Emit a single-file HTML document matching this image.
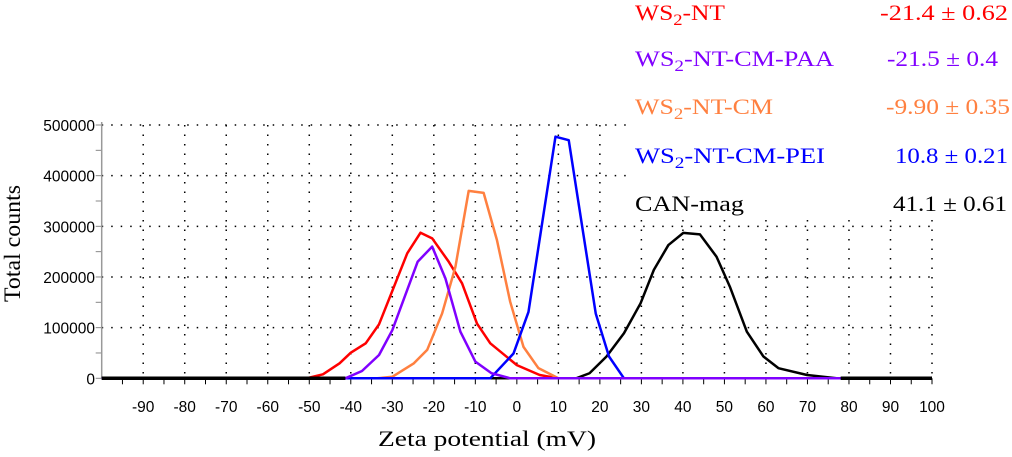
<!DOCTYPE html>
<html><head><meta charset="utf-8"><style>
body{margin:0;background:#fff;width:1012px;height:457px;overflow:hidden}
svg{display:block}
.t{font-family:"Liberation Serif",serif}
.a{font-family:"Liberation Sans",sans-serif;font-size:15.5px}
</style></head><body>
<svg id="chart" width="1012" height="457" xmlns="http://www.w3.org/2000/svg">
<g id="grid"></g>
<g id="axes"></g>
<g id="series"></g>
<rect x="626" y="0" width="386" height="218" fill="#fff"/>
<g class="t" font-size="22">
 <text x="635" y="20" fill="#ff0000" textLength="90" lengthAdjust="spacingAndGlyphs">WS<tspan font-size="16" dy="5">2</tspan><tspan dy="-5">-NT</tspan></text>
 <text x="880" y="20" fill="#ff0000" textLength="128" lengthAdjust="spacingAndGlyphs">-21.4 ± 0.62</text>
 <text x="635" y="66" fill="#8000ff" textLength="199" lengthAdjust="spacingAndGlyphs">WS<tspan font-size="16" dy="5">2</tspan><tspan dy="-5">-NT-CM-PAA</tspan></text>
 <text x="887" y="66" fill="#8000ff" textLength="111" lengthAdjust="spacingAndGlyphs">-21.5 ± 0.4</text>
 <text x="635" y="114" fill="#ff8040" textLength="138" lengthAdjust="spacingAndGlyphs">WS<tspan font-size="16" dy="5">2</tspan><tspan dy="-5">-NT-CM</tspan></text>
 <text x="886" y="114" fill="#ff8040" textLength="124" lengthAdjust="spacingAndGlyphs">-9.90 ± 0.35</text>
 <text x="635" y="163" fill="#0000ff" textLength="190" lengthAdjust="spacingAndGlyphs">WS<tspan font-size="16" dy="5">2</tspan><tspan dy="-5">-NT-CM-PEI</tspan></text>
 <text x="895" y="163" fill="#0000ff" textLength="113" lengthAdjust="spacingAndGlyphs">10.8 ± 0.21</text>
 <text x="635" y="211" fill="#000" textLength="109" lengthAdjust="spacingAndGlyphs">CAN-mag</text>
 <text x="893" y="211" fill="#000" textLength="114" lengthAdjust="spacingAndGlyphs">41.1 ± 0.61</text>
</g>
<text class="t" font-size="22" x="378" y="446" textLength="218" lengthAdjust="spacingAndGlyphs">Zeta potential (mV)</text>
<text class="t" font-size="23" transform="translate(20,302) rotate(-90)" textLength="117" lengthAdjust="spacingAndGlyphs">Total counts</text>
</svg>
<script>
const xTicks=[-90,-80,-70,-60,-50,-40,-30,-20,-10,0,10,20,30,40,50,60,70,80,90,100];
const yTicks=[0,100000,200000,300000,400000,500000];
const redX=[-100,-50.7,-46.7,-42.7,-40,-36.4,-33.2,-26.4,-23.2,-20.4,-16.4,-13.2,-9.6,-6.4,0,5.5,10,100];
const redY=[0,0,7900,29600,50500,69000,106500,246700,287400,276300,230000,187500,108000,69000,26000,6500,0,0];
const orangeX=[-100,-33.6,-30,-24.8,-21.6,-18,-14.8,-11.6,-8,-4.8,-1.6,1.6,5.2,10,100];
const orangeY=[0,0,3000,29600,56000,128000,220000,370000,366000,273000,151000,62000,20000,0,0];
const blueX=[-100,-6.4,-0.8,2.8,9.3,12.5,19,22.2,25.8,100];
const blueY=[0,0,49000,131000,477000,470000,128000,43000,0,0];
const blackX=[-100,14.3,17.5,21.6,25.8,29.8,33,36.5,40.1,44.1,48.1,51.3,55.4,59.4,63,69.9,77,100];
const blackY=[0,0,10000,43000,89000,148000,214000,263000,287000,284000,240000,181000,92000,43000,20000,6500,0,0];
const purpleX=[-41.3,-37.3,-33.2,-30,-23.9,-20.4,-17.2,-13.6,-10,-6.1,-1.6,78];
const purpleY=[0,14400,46000,95000,230000,260000,197000,92000,33000,10000,0,0];
const NS='http://www.w3.org/2000/svg';
const X0=101.7,X1=932,Y0=378.3,Y1=125;
function sx(v){return X0+(v+100)/200*(X1-X0);}
function sy(v){return Y0-v/500000*(Y0-Y1);}
function mk(tag,attrs,parent){const e=document.createElementNS(NS,tag);for(const k in attrs)e.setAttribute(k,attrs[k]);parent.appendChild(e);return e;}
const grid=document.getElementById('grid'),axes=document.getElementById('axes'),ser=document.getElementById('series');
xTicks.forEach(v=>{
 const l=mk('line',{x1:sx(v),x2:sx(v),y1:Y1,y2:Y0,stroke:'#000','stroke-width':1.5,'stroke-dasharray':'1.5 8'},grid);
 
 
 const t=mk('text',{x:sx(v),y:412,'text-anchor':'middle',class:'a'},axes);t.textContent=v;
 
 
});
for(let v=-95;v<=100;v+=5){const tk=mk('line',{x1:sx(v),x2:sx(v),y1:Y0,y2:Y0+6,stroke:'#000','stroke-width':1},axes);
 
 }
yTicks.forEach(v=>{
 if(v>0){const l=mk('line',{x1:X0,x2:X1,y1:sy(v),y2:sy(v),stroke:'#000','stroke-width':1.5,'stroke-dasharray':'1.5 8'},grid);
 
 }
 const t=mk('text',{x:95,y:sy(v)+6,'text-anchor':'end',class:'a'},axes);t.textContent=v;
 
 
});
for(let v=0;v<=500000;v+=50000){const tk=mk('line',{x1:X0-6,x2:X0,y1:sy(v),y2:sy(v),stroke:'#888','stroke-width':1},axes);
 
 }
const ya=mk('line',{x1:X0,x2:X0,y1:Y1-3,y2:Y0,stroke:'#999','stroke-width':1.5},axes);


function line(xs,ys,c,name){
 const p=mk('polyline',{points:xs.map((x,i)=>sx(x)+','+sy(ys[i])).join(' '),fill:'none',stroke:c,'stroke-width':2.5,'stroke-linejoin':'round'},ser);
 
 
}
line(blackX,blackY,'#000','series-can-mag');
line(redX,redY,'#ff0000','series-ws2-nt');
line(orangeX,orangeY,'#ff8040','series-ws2-nt-cm');
line(blueX,blueY,'#0000ff','series-ws2-nt-cm-pei');
line(purpleX,purpleY,'#8000ff','series-ws2-nt-cm-paa');
const base=mk('line',{x1:X0,x2:sx(-41.3),y1:Y0,y2:Y0,stroke:'#000','stroke-width':3.5},ser);


const base2=mk('line',{x1:sx(78),x2:X1,y1:Y0,y2:Y0,stroke:'#000','stroke-width':3.5},ser);


</script>
</body></html>
